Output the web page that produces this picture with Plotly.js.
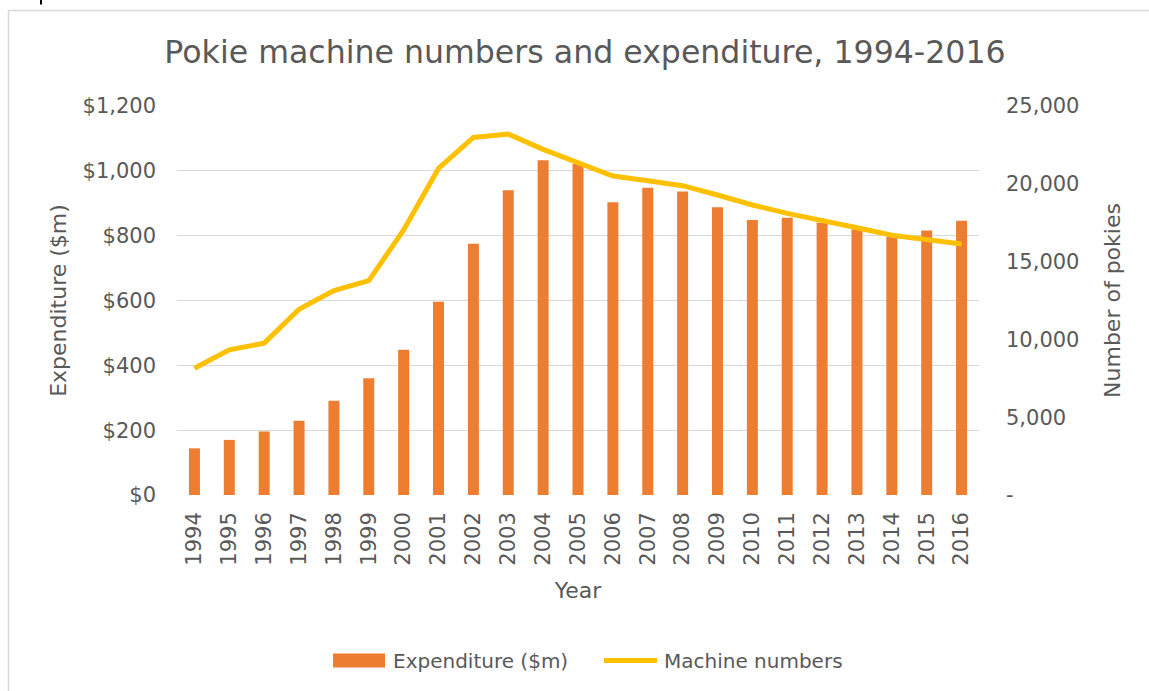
<!DOCTYPE html>
<html>
<head>
<meta charset="utf-8">
<script src="https://cdn.plot.ly/plotly-3.0.1.min.js"></script>
<style>
html,body{margin:0;padding:0;background:#fff;}
#chart{width:1149px;height:691px;}
</style>
</head>
<body>
<div id="chart"></div>
<script>
const years = ["1994","1995","1996","1997","1998","1999","2000","2001","2002","2003","2004","2005","2006","2007","2008","2009","2010","2011","2012","2013","2014","2015","2016"];
const expenditure = [144,170,196,229,291,360,448,596,775,940,1033,1021,903,948,936,888,848,855,840,820,797,816,846];
const machines = [8150,9330,9760,11940,13140,13780,17030,20990,22980,23200,22210,21350,20500,20200,19880,19280,18640,18100,17680,17180,16690,16390,16130];
const rightTickVals = [0,5000,10000,15000,20000,25000];
const rightTickText = ["-","5,000","10,000","15,000","20,000","25,000"];
const seriesNames = ["Expenditure ($m)", "Machine numbers"];
const seriesColors = ["#ED7D31", "#FFC000"];

const FONT = "DejaVu Sans";
const GREY = "#595959";

const traces = [
  {
    type: "bar", x: years, y: expenditure, name: seriesNames[0],
    marker: {color: seriesColors[0]}, yaxis: "y", hoverinfo: "skip", showlegend: false
  },
  {
    type: "scatter", mode: "lines", x: years, y: machines, name: seriesNames[1],
    line: {color: seriesColors[1], width: 5}, yaxis: "y2", hoverinfo: "skip", showlegend: false
  }
];

// pixel -> paper helpers for decoration (legend key, frame)
const L = 177, R = 979, T = 106, B = 495;
const px = v => (v - L) / (R - L);
const py = v => (B - v) / (B - T);

const legendY = 660.5;

const layout = {
  width: 1149, height: 691,
  margin: {l: 177, r: 170, t: 106, b: 196},
  paper_bgcolor: "#fff", plot_bgcolor: "#fff",
  font: {family: FONT, color: GREY, size: 21},
  title: {
    text: "Pokie machine numbers and expenditure, 1994-2016",
    font: {family: FONT, size: 31.6, color: GREY},
    x: 585/1149, xanchor: "center", xref: "container",
    y: 1 - 51.7/691, yanchor: "middle", yref: "container"
  },
  bargap: 0.685,
  showlegend: false,
  xaxis: {
    type: "category", tickangle: -90, showgrid: false, zeroline: false, showline: false,
    ticks: "", tickfont: {family: FONT, size: 21, color: GREY},
    ticklabelstandoff: 12,
    title: {text: "Year", font: {family: FONT, size: 22, color: GREY}, standoff: 17},
    fixedrange: true
  },
  yaxis: {
    range: [0, 1200], dtick: 200, tick0: 0, tickprefix: "$", tickformat: ",d",
    showgrid: true, gridcolor: "#D9D9D9", gridwidth: 1.3, zeroline: false, showline: false,
    ticks: "", tickfont: {family: FONT, size: 21, color: GREY},
    ticklabelstandoff: 20,
    title: {text: "Expenditure ($m)", font: {family: FONT, size: 22, color: GREY}, standoff: 9},
    fixedrange: true
  },
  yaxis2: {
    overlaying: "y", side: "right", range: [0, 25000],
    tickmode: "array", tickvals: rightTickVals, ticktext: rightTickText,
    showgrid: false, zeroline: false, showline: false,
    ticks: "", tickfont: {family: FONT, size: 21, color: GREY},
    ticklabelstandoff: 26,
    title: {text: "Number of pokies", font: {family: FONT, size: 22, color: GREY}, standoff: 26},
    fixedrange: true
  },
  shapes: [
    {type: "rect", xref: "paper", yref: "paper",
     x0: px(8.5), x1: px(1152), y0: py(700), y1: py(10.5),
     line: {color: "#D9D9D9", width: 1.5}, fillcolor: "rgba(0,0,0,0)", layer: "below"},
    {type: "line", xref: "paper", yref: "paper",
     x0: px(41), x1: px(41), y0: py(4.5), y1: py(-1),
     line: {color: "#000", width: 2}},
    // legend key
    {type: "rect", xref: "paper", yref: "paper",
     x0: px(333), x1: px(385), y0: py(legendY + 7), y1: py(legendY - 7),
     line: {width: 0}, fillcolor: seriesColors[0]},
    {type: "line", xref: "paper", yref: "paper",
     x0: px(604), x1: px(657), y0: py(legendY), y1: py(legendY),
     line: {color: seriesColors[1], width: 5}}
  ],
  annotations: [
    {xref: "paper", yref: "paper", x: px(391), y: py(legendY), xanchor: "left", yanchor: "middle",
     text: seriesNames[0], showarrow: false, font: {family: FONT, size: 20, color: GREY}},
    {xref: "paper", yref: "paper", x: px(662), y: py(legendY), xanchor: "left", yanchor: "middle",
     text: seriesNames[1], showarrow: false, font: {family: FONT, size: 20, color: GREY}}
  ]
};

Plotly.newPlot("chart", traces, layout, {displayModeBar: false, staticPlot: true});
</script>
</body>
</html>
